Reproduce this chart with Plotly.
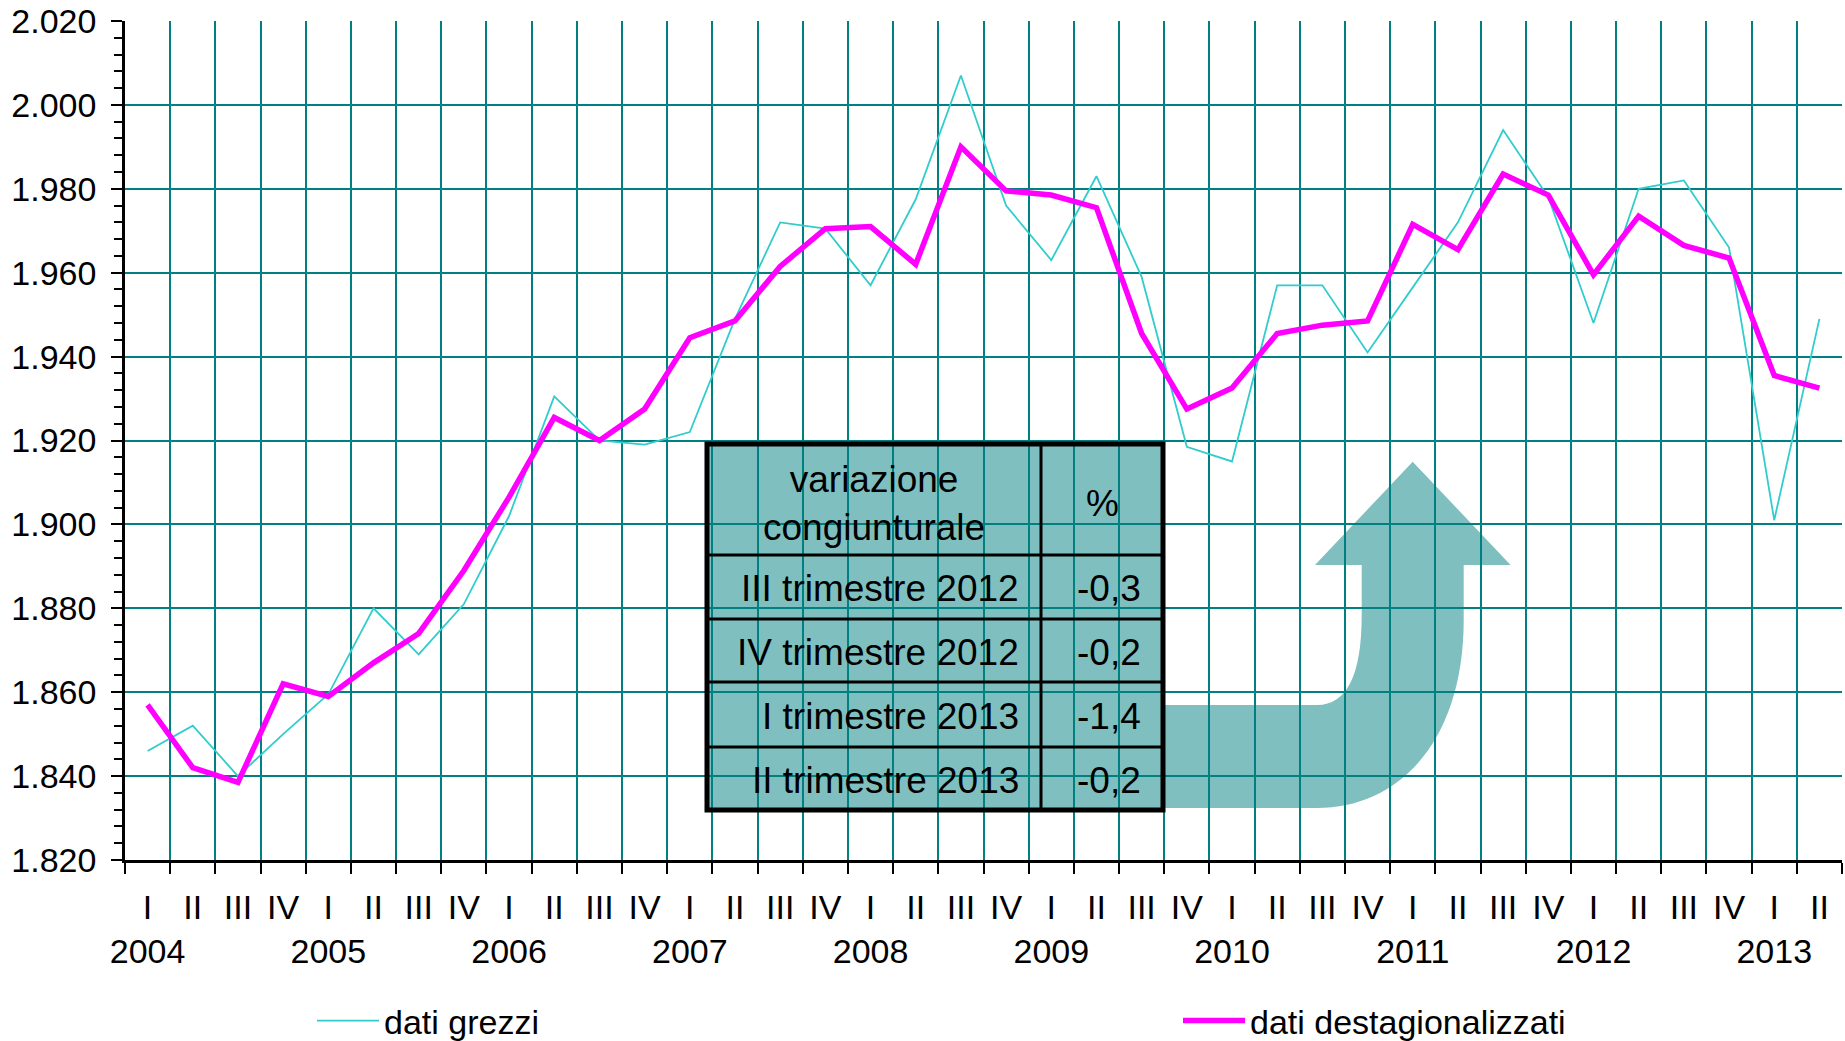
import plotly.graph_objects as go

# ---------------- data ----------------
years = [2004, 2005, 2006, 2007, 2008, 2009, 2010, 2011, 2012, 2013]
quarter_names = ["I", "II", "III", "IV"]
n_quarters = 38  # 2004 I .. 2013 II

dati_grezzi = [1846, 1852, 1840, 1850, 1859.5, 1880, 1869, 1881, 1902, 1930.5,
               1920, 1919, 1922, 1949, 1972, 1970.5, 1957, 1977.5, 2007, 1976,
               1963, 1983, 1959, 1918.5, 1915, 1957, 1957, 1941, 1956.5, 1972,
               1994, 1978, 1948, 1980, 1982, 1966, 1901, 1949]
dati_destag = [1857, 1842, 1838.5, 1862, 1859, 1867, 1874, 1889, 1906.5, 1925.5,
               1920, 1927.5, 1944.5, 1948.5, 1961.5, 1970.5, 1971, 1962, 1990, 1979.5,
               1978.5, 1975.5, 1945.5, 1927.5, 1932.5, 1945.5, 1947.5, 1948.5, 1971.5, 1965.5,
               1983.5, 1978.5, 1959.5, 1973.5, 1966.5, 1963.5, 1935.5, 1932.5]

table_header = ["variazione<br>congiunturale", "%"]
table_rows = ["III trimestre 2012", "IV trimestre 2012", "I trimestre 2013", "II trimestre 2013"]
table_values = ["-0,3", "-0,2", "-1,4", "-0,2"]

# categories and tick labels
categories, ticktext = [], []
for k in range(n_quarters):
    y = years[k // 4]
    q = quarter_names[k % 4]
    categories.append(f"{y}-{q}")
    ticktext.append(f"{q}<br>{y}" if q == "I" else q)

# ---------------- layout geometry (pixels) ----------------
W_FIG, H_FIG = 1845, 1041
L, R, T, B = 125, 1842, 21, 860
PW, PH = R - L, B - T


def px(p):
    return (p - L) / PW


def py(p):
    return (B - p) / PH


FONT = "Liberation Sans, Arial, sans-serif"
TEAL = "#008080"
FILL = "#80BFBF"

fig = go.Figure()
fig.add_trace(go.Scatter(x=categories, y=dati_grezzi, mode="lines", name="dati grezzi",
                         line=dict(color="#33CCCC", width=1.8), legend="legend"))
fig.add_trace(go.Scatter(x=categories, y=dati_destag, mode="lines", name="dati destagionalizzati",
                         line=dict(color="#FF00FF", width=5.5), legend="legend2"))

shapes = []
# table background (below gridlines)
shapes.append(dict(type="rect", xref="paper", yref="paper", layer="below",
                   x0=px(707), x1=px(1163), y0=py(810), y1=py(444),
                   fillcolor=FILL, line=dict(width=0)))
# arrow (below gridlines)
pts = lambda x, y: f"{px(x)},{py(y)}"
path = ("M " + pts(1163, 705) + " L " + pts(1317, 705) +
        " Q " + pts(1361.7, 705) + " " + pts(1361.7, 615) +
        " L " + pts(1361.7, 565) + " L " + pts(1315, 565) +
        " L " + pts(1412.7, 461.7) + " L " + pts(1510.6, 565) +
        " L " + pts(1463.7, 565) + " L " + pts(1463.7, 620) +
        " C " + pts(1463.7, 740) + " " + pts(1400, 808) + " " + pts(1317, 808) +
        " L " + pts(1163, 808) + " Z")
shapes.append(dict(type="path", xref="paper", yref="paper", layer="below",
                   path=path, fillcolor=FILL, line=dict(width=0)))
# table inner lines
for yy in [555, 619, 682, 747]:
    shapes.append(dict(type="line", xref="paper", yref="paper", layer="above",
                       x0=px(707), x1=px(1163), y0=py(yy), y1=py(yy),
                       line=dict(color="black", width=3)))
shapes.append(dict(type="line", xref="paper", yref="paper", layer="above",
                   x0=px(1041), x1=px(1041), y0=py(444), y1=py(810),
                   line=dict(color="black", width=3)))
# table outer border
shapes.append(dict(type="rect", xref="paper", yref="paper", layer="above",
                   x0=px(707), x1=px(1163), y0=py(810), y1=py(444),
                   line=dict(color="black", width=5)))

annotations = []
TFONT = dict(family=FONT, size=37, color="black")
annotations.append(dict(xref="paper", yref="paper", x=px(874), y=py(503),
                        text=table_header[0], showarrow=False, xanchor="center", yanchor="middle",
                        font=TFONT))
annotations.append(dict(xref="paper", yref="paper", x=px(1102), y=py(503),
                        text=table_header[1], showarrow=False, xanchor="center", yanchor="middle",
                        font=TFONT))
row_centers = [588, 652, 716, 780]
for lab, val, yc in zip(table_rows, table_values, row_centers):
    annotations.append(dict(xref="paper", yref="paper", x=px(1021), y=py(yc),
                            text=lab, showarrow=False, xanchor="right", yanchor="middle",
                            font=TFONT))
    annotations.append(dict(xref="paper", yref="paper", x=px(1143), y=py(yc),
                            text=val, showarrow=False, xanchor="right", yanchor="middle",
                            font=TFONT))

LEG_Y = (H_FIG - 1021) / H_FIG
fig.update_layout(
    width=W_FIG, height=H_FIG,
    margin=dict(l=L, r=W_FIG - R, t=T, b=H_FIG - B, pad=0, autoexpand=False),
    plot_bgcolor="white", paper_bgcolor="white",
    font=dict(family=FONT, size=34, color="black"),
    separators=",.",
    shapes=shapes, annotations=annotations,
    hovermode=False,
    showlegend=True,
    legend=dict(orientation="h", xref="container", yref="container",
                x=312 / W_FIG, y=LEG_Y, xanchor="left", yanchor="middle",
                itemwidth=62, font=dict(family=FONT, size=34, color="black"),
                bgcolor="rgba(0,0,0,0)"),
    legend2=dict(orientation="h", xref="container", yref="container",
                 x=1178 / W_FIG, y=LEG_Y, xanchor="left", yanchor="middle",
                 itemwidth=62, font=dict(family=FONT, size=34, color="black"),
                 bgcolor="rgba(0,0,0,0)"),
)
fig.update_xaxes(
    type="category", categoryorder="array", categoryarray=categories,
    range=[-0.5, n_quarters - 0.5],
    tickmode="array", tickvals=categories, ticktext=ticktext, tickangle=0,
    tickson="boundaries", ticks="outside", ticklen=11, tickwidth=2, tickcolor="black",
    showgrid=True, gridcolor=TEAL, gridwidth=1.6,
    showline=True, linecolor="black", linewidth=2.5,
    tickfont=dict(family=FONT, size=34, color="black"),
    ticklabelstandoff=15, automargin=False,
)
fig.update_yaxes(
    range=[1820, 2020], tick0=1820, dtick=20, tickformat=",d",
    ticks="outside", ticklen=11, tickwidth=2, tickcolor="black",
    minor=dict(dtick=4, ticks="outside", ticklen=8, tickwidth=2, tickcolor="black", showgrid=False),
    showgrid=True, gridcolor=TEAL, gridwidth=1.6, zeroline=False,
    showline=True, linecolor="black", linewidth=2.5,
    tickfont=dict(family=FONT, size=34, color="black"),
    ticklabelstandoff=8, automargin=False,
)

fig.write_html("out.html", config={"displayModeBar": False},
               post_script="document.body.style.margin='0';document.body.style.overflow='hidden';")
